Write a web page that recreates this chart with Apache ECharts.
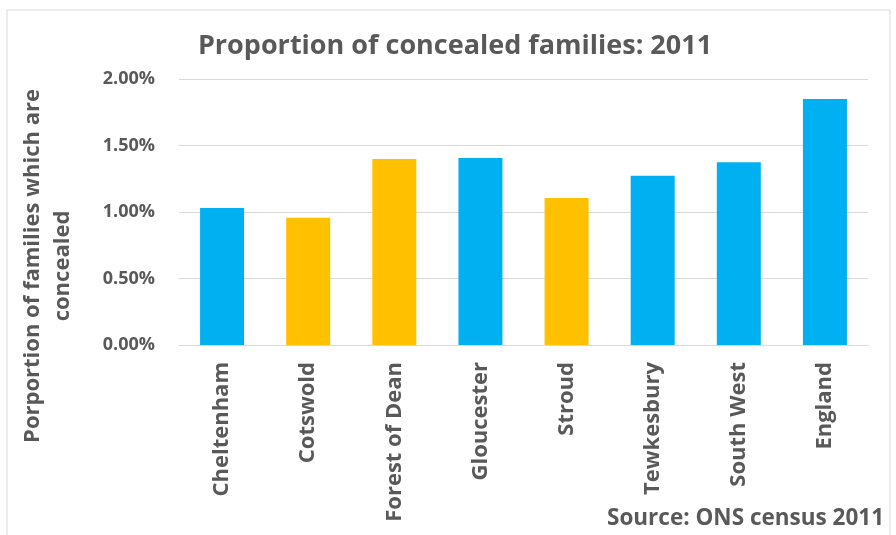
<!DOCTYPE html>
<html>
<head>
<meta charset="utf-8">
<script src="https://cdn.jsdelivr.net/npm/echarts@6/dist/echarts.min.js"></script>
<style>
  html, body { margin: 0; padding: 0; background: #ffffff; }
  #chart { width: 896px; height: 535px; }
</style>
</head>
<body>
<div id="chart"></div>
<script>
// Areas and their share of concealed families (percent), census 2011
const categories = ['Cheltenham', 'Cotswold', 'Forest of Dean', 'Gloucester', 'Stroud', 'Tewkesbury', 'South West', 'England'];
const concealedPct = [1.031, 0.956, 1.399, 1.406, 1.106, 1.273, 1.374, 1.849];
// Areas drawn in the accent colour
const accentAreas = ['Cotswold', 'Forest of Dean', 'Stroud'];
// Value axis ticks
const yTicks = [0, 0.5, 1.0, 1.5, 2.0];

const TEXT = '#595959';
const FONT = 'Open Sans';

const chart = echarts.init(document.getElementById('chart'), null, { renderer: 'canvas' });

chart.setOption({
  backgroundColor: '#ffffff',
  animation: false,
  title: {
    text: 'Proportion of concealed families: 2011',
    left: 450,
    top: 28,
    textAlign: 'center',
    textStyle: { fontFamily: FONT, fontWeight: 'bold', fontSize: 27, color: TEXT }
  },
  grid: { left: 179, right: 28, top: 79, bottom: 190, containLabel: false },
  xAxis: {
    type: 'category',
    data: categories,
    axisTick: { show: false },
    axisLine: { lineStyle: { color: '#d9d9d9', width: 1 } },
    axisLabel: {
      rotate: 90,
      margin: 17,
      interval: 0,
      fontFamily: FONT,
      fontWeight: 'bold',
      fontSize: 22,
      color: TEXT
    }
  },
  yAxis: {
    type: 'value',
    min: yTicks[0],
    max: yTicks[yTicks.length - 1],
    interval: yTicks[1] - yTicks[0],
    axisLine: { show: false },
    axisTick: { show: false },
    splitLine: { lineStyle: { color: '#d9d9d9', width: 1 } },
    axisLabel: {
      margin: 24,
      fontFamily: FONT,
      fontWeight: 'bold',
      fontSize: 18,
      color: TEXT,
      formatter: v => v.toFixed(2) + '%'
    }
  },
  series: [{
    type: 'bar',
    barWidth: 44,
    data: concealedPct.map((v, i) => ({
      value: v,
      itemStyle: { color: accentAreas.includes(categories[i]) ? '#FFC000' : '#00B0F0' }
    }))
  }],
  graphic: [
    {
      type: 'rect',
      shape: { x: 7, y: 10, width: 883, height: 540 },
      style: { fill: 'none', stroke: '#d9d9d9', lineWidth: 1 },
      silent: true
    },
    {
      type: 'text',
      x: 48,
      y: 266,
      rotation: Math.PI / 2,
      style: {
        text: 'Porportion of families which are\nconcealed',
        fontFamily: FONT,
        fontWeight: 'bold',
        fontSize: 22,
        lineHeight: 30,
        fill: TEXT,
        align: 'center',
        verticalAlign: 'middle'
      }
    },
    {
      type: 'text',
      right: 12,
      top: 507,
      style: {
        text: 'Source: ONS census 2011',
        fontFamily: FONT,
        fontWeight: 'bold',
        fontSize: 22.5,
        fill: TEXT
      }
    }
  ]
});
</script>
</body>
</html>
